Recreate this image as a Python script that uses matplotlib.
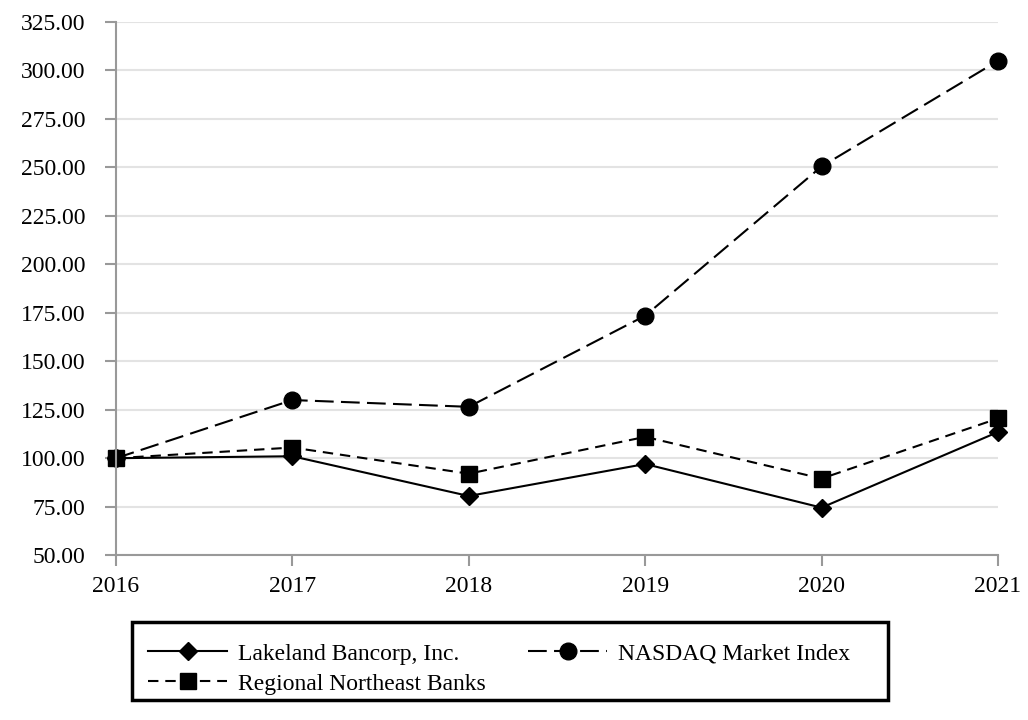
import matplotlib.pyplot as plt
from matplotlib.patches import Rectangle

# Cumulative total return data
years = [2016, 2017, 2018, 2019, 2020, 2021]
lakeland = [100.0, 101.0, 80.5, 97.0, 74.5, 113.5]
nasdaq = [100.0, 130.0, 126.5, 173.5, 250.5, 305.0]
regional = [100.0, 105.5, 92.0, 111.0, 89.5, 120.5]
yticks = [50, 75, 100, 125, 150, 175, 200, 225, 250, 275, 300, 325]

plt.rcParams['font.family'] = ['Liberation Serif', 'DejaVu Serif']

W, H = 1028, 720
fig = plt.figure(figsize=(W / 100, H / 100), dpi=100)
ax = fig.add_axes([0.1128, 0.229, 0.858, 0.7404])

l1, = ax.plot(years, lakeland, color='black', lw=1.5, marker='D', ms=9,
              label='Lakeland Bancorp, Inc.', clip_on=False)
l2, = ax.plot(years, nasdaq, color='black', lw=1.5, ls=(0, (9, 3.5)), marker='o', ms=12,
              label='NASDAQ Market Index', clip_on=False)
l3, = ax.plot(years, regional, color='black', lw=1.5, ls=(0, (5, 3.3)), marker='s', ms=11,
              label='Regional Northeast Banks', clip_on=False)

ax.set_xlim(2016, 2021)
ax.set_ylim(50, 325)
ax.set_yticks(yticks)
ax.set_yticklabels([f'{v:.2f}' for v in yticks])
ax.set_xticks(years)
ax.tick_params(labelsize=17, color='#999999', length=8, width=1.5)
ax.tick_params(axis='y', pad=14)
ax.tick_params(axis='x', pad=7)
ax.yaxis.grid(True, color='#e3e3e3', lw=1.5)
ax.set_axisbelow(True)
for s in ['top', 'right']:
    ax.spines[s].set_visible(False)
for s in ['left', 'bottom']:
    ax.spines[s].set_color('#999999')
    ax.spines[s].set_linewidth(1.5)

# legend box drawn separately so the padding can match the original
fig.patches.append(Rectangle((132 / W, 1 - 700 / H), 756 / W, 78 / H,
                             transform=fig.transFigure, fill=False,
                             edgecolor='black', lw=2.5))
leg = fig.legend([l1, l3, l2], [l1.get_label(), l3.get_label(), l2.get_label()],
                 ncol=2, loc='upper left',
                 bbox_to_anchor=(148 / W, 1 - 643 / H),
                 fontsize=17, frameon=False,
                 handlelength=3.35, handletextpad=0.47, labelspacing=0.36,
                 borderpad=0, borderaxespad=0, columnspacing=1.78)

fig.savefig('out.png', dpi=100)
